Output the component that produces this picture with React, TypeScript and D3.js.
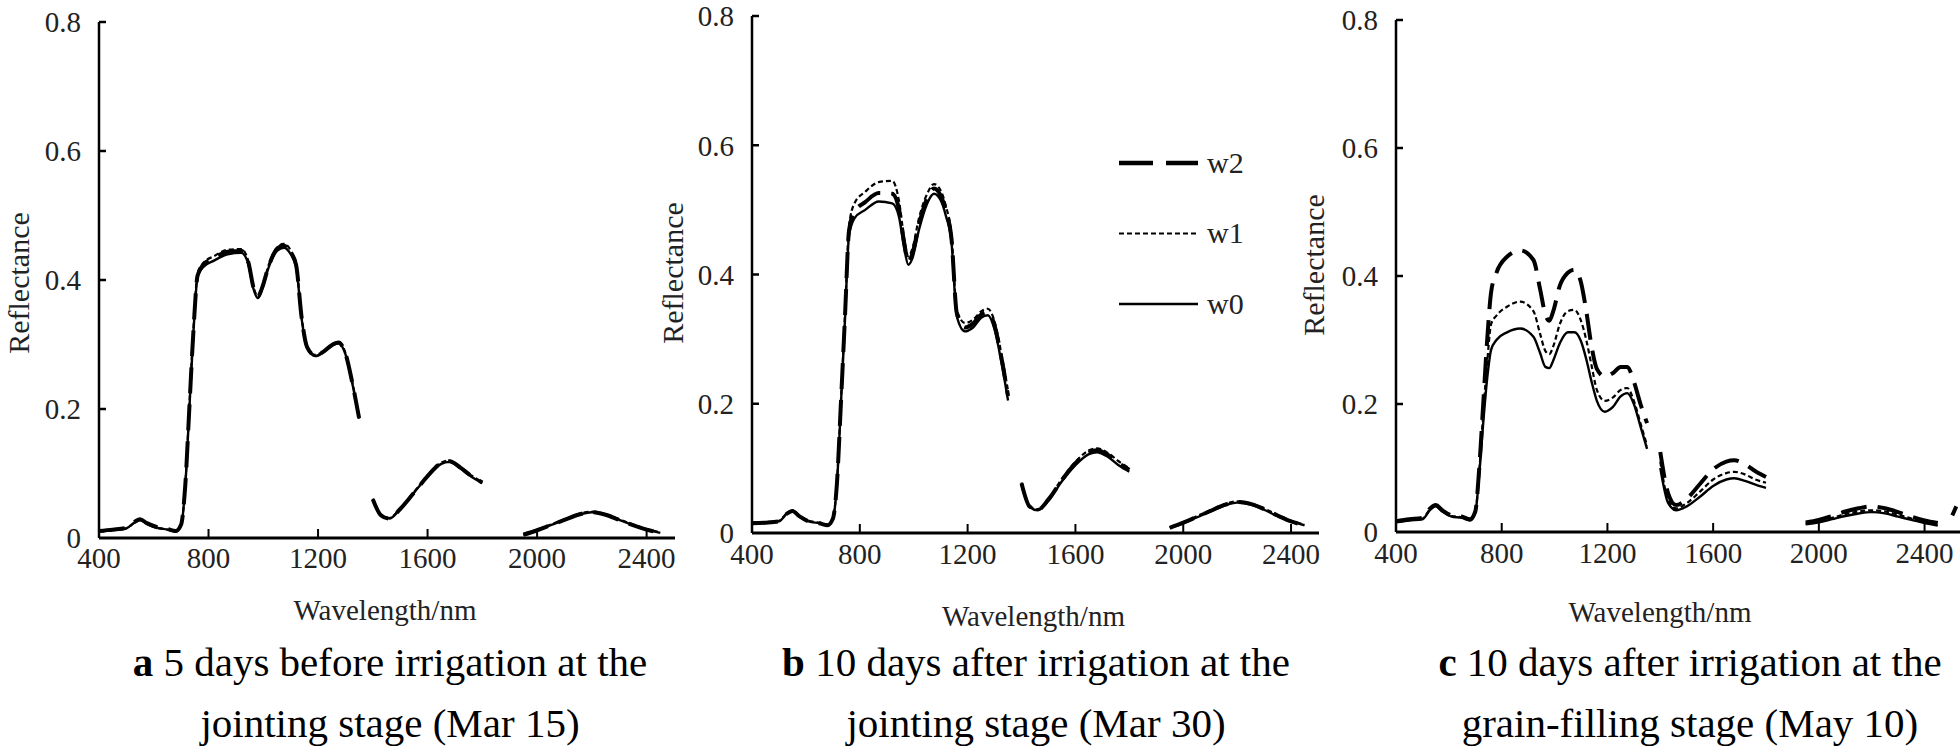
import React from 'react';
import * as d3 from 'd3';

// wavelength grid (nm); 1375, 1875 and 2475 are water-band gaps (null reflectance)
const wavelength = [
  400, 450, 500, 530, 550, 575, 610, 650, 680, 700, 715, 730, 745, 760, 780, 820, 870, 920, 945, 965,
  980, 995, 1020, 1050, 1075, 1100, 1120, 1140, 1160, 1190, 1220, 1250, 1275, 1300, 1325, 1350,
  1375,
  1400, 1430, 1460, 1500, 1550, 1600, 1650, 1680, 1720, 1760, 1800,
  1875,
  1950, 2000, 2050, 2100, 2150, 2200, 2250, 2300, 2350, 2400, 2450,
  2475, 2505, 2520
];

const xTicks = [400, 800, 1200, 1600, 2000, 2400];
const yTicks = [0, 0.2, 0.4, 0.6, 0.8];

// panel a - 5 days before irrigation (jointing)
const aW0 = [
  0.010, 0.012, 0.015, 0.024, 0.028, 0.022, 0.016, 0.013, 0.010, 0.020, 0.080, 0.200, 0.320, 0.405, 0.420, 0.430, 0.440, 0.442, 0.425, 0.385,
  0.372, 0.385, 0.420, 0.445, 0.450, 0.440, 0.420, 0.340, 0.295, 0.282, 0.288, 0.298, 0.302, 0.285, 0.240, 0.185,
  null,
  0.060, 0.035, 0.030, 0.045, 0.070, 0.095, 0.115, 0.118, 0.108, 0.095, 0.085,
  null,
  0.005, 0.012, 0.020, 0.028, 0.036, 0.040, 0.036, 0.028, 0.020, 0.013, 0.008,
  null, null, null
];
const aW1 = [
  0.010, 0.012, 0.015, 0.024, 0.028, 0.022, 0.016, 0.013, 0.010, 0.020, 0.082, 0.205, 0.325, 0.410, 0.426, 0.437, 0.447, 0.448, 0.430, 0.388,
  0.375, 0.388, 0.424, 0.450, 0.456, 0.446, 0.425, 0.343, 0.297, 0.284, 0.290, 0.300, 0.304, 0.287, 0.242, 0.187,
  null,
  0.061, 0.036, 0.031, 0.046, 0.071, 0.097, 0.117, 0.120, 0.110, 0.097, 0.087,
  null,
  0.006, 0.013, 0.021, 0.029, 0.037, 0.041, 0.037, 0.029, 0.021, 0.014, 0.009,
  null, null, null
];
const aW2 = [
  0.011, 0.013, 0.016, 0.025, 0.029, 0.023, 0.017, 0.014, 0.011, 0.021, 0.081, 0.202, 0.322, 0.407, 0.423, 0.434, 0.444, 0.445, 0.428, 0.387,
  0.374, 0.387, 0.422, 0.448, 0.453, 0.443, 0.423, 0.342, 0.296, 0.283, 0.289, 0.299, 0.303, 0.286, 0.241, 0.186,
  null,
  0.060, 0.035, 0.030, 0.045, 0.070, 0.096, 0.116, 0.119, 0.109, 0.096, 0.086,
  null,
  0.005, 0.012, 0.020, 0.028, 0.036, 0.040, 0.036, 0.028, 0.020, 0.013, 0.008,
  null, null, null
];

// panel b - 10 days after irrigation (jointing)
const bW0 = [
  0.015, 0.016, 0.018, 0.030, 0.034, 0.026, 0.018, 0.015, 0.012, 0.022, 0.075, 0.200, 0.330, 0.460, 0.487, 0.500, 0.513, 0.510, 0.490, 0.440,
  0.415, 0.425, 0.470, 0.510, 0.525, 0.515, 0.490, 0.450, 0.335, 0.312, 0.318, 0.333, 0.337, 0.315, 0.265, 0.205,
  null,
  0.075, 0.040, 0.035, 0.050, 0.080, 0.105, 0.122, 0.125, 0.118, 0.105, 0.095,
  null,
  0.008, 0.015, 0.024, 0.033, 0.042, 0.047, 0.044, 0.036, 0.026, 0.018, 0.012,
  null, null, null
];
const bW1 = [
  0.016, 0.017, 0.019, 0.031, 0.035, 0.027, 0.019, 0.016, 0.013, 0.023, 0.078, 0.205, 0.340, 0.475, 0.510, 0.528, 0.543, 0.545, 0.515, 0.455,
  0.428, 0.440, 0.488, 0.525, 0.540, 0.530, 0.505, 0.462, 0.345, 0.325, 0.330, 0.343, 0.347, 0.327, 0.278, 0.220,
  null,
  0.078, 0.042, 0.037, 0.053, 0.084, 0.110, 0.128, 0.131, 0.124, 0.111, 0.100,
  null,
  0.009, 0.016, 0.026, 0.035, 0.044, 0.049, 0.046, 0.038, 0.028, 0.019, 0.013,
  null, null, null
];
const bW2 = [
  0.015, 0.016, 0.018, 0.030, 0.034, 0.026, 0.018, 0.015, 0.012, 0.022, 0.076, 0.202, 0.335, 0.468, 0.497, 0.512, 0.526, 0.525, 0.502, 0.448,
  0.420, 0.432, 0.478, 0.518, 0.533, 0.522, 0.498, 0.456, 0.340, 0.318, 0.324, 0.338, 0.342, 0.321, 0.272, 0.212,
  null,
  0.077, 0.041, 0.036, 0.052, 0.082, 0.108, 0.125, 0.128, 0.121, 0.108, 0.098,
  null,
  0.008, 0.016, 0.025, 0.034, 0.043, 0.048, 0.045, 0.037, 0.027, 0.018, 0.012,
  null, null, null
];

// panel c - 10 days after irrigation (grain-filling)
const cW0 = [
  0.015, 0.018, 0.020, 0.035, 0.040, 0.032, 0.024, 0.022, 0.018, 0.030, 0.090, 0.170, 0.240, 0.285, 0.300, 0.312, 0.318, 0.305, 0.280, 0.258,
  0.256, 0.268, 0.295, 0.312, 0.312, 0.298, 0.270, 0.235, 0.205, 0.188, 0.195, 0.212, 0.217, 0.200, 0.165, 0.130,
  null,
  0.100, 0.045, 0.034, 0.040, 0.055, 0.072, 0.082, 0.084, 0.080, 0.074, 0.069,
  null,
  0.012, 0.015, 0.020, 0.025, 0.029, 0.031, 0.029, 0.024, 0.019, 0.014, 0.010,
  null, null, null
];
const cW1 = [
  0.016, 0.019, 0.021, 0.036, 0.041, 0.033, 0.025, 0.023, 0.019, 0.031, 0.095, 0.185, 0.265, 0.325, 0.338, 0.352, 0.360, 0.345, 0.310, 0.283,
  0.278, 0.290, 0.325, 0.345, 0.347, 0.330, 0.300, 0.260, 0.222, 0.205, 0.210, 0.222, 0.225, 0.205, 0.170, 0.135,
  null,
  0.110, 0.050, 0.037, 0.045, 0.063, 0.082, 0.092, 0.094, 0.090, 0.082, 0.077,
  null,
  0.013, 0.017, 0.022, 0.028, 0.032, 0.034, 0.032, 0.027, 0.021, 0.016, 0.012,
  null, null, null
];
const cW2 = [
  0.017, 0.020, 0.022, 0.037, 0.042, 0.034, 0.026, 0.024, 0.020, 0.032, 0.100, 0.200, 0.300, 0.375, 0.405, 0.430, 0.440, 0.425, 0.380, 0.340,
  0.330, 0.345, 0.385, 0.405, 0.410, 0.390, 0.345, 0.290, 0.255, 0.243, 0.248, 0.258, 0.258, 0.235, 0.200, 0.170,
  null,
  0.125, 0.060, 0.042, 0.052, 0.075, 0.098, 0.110, 0.112, 0.106, 0.095, 0.086,
  null,
  0.015, 0.019, 0.025, 0.032, 0.037, 0.040, 0.037, 0.031, 0.024, 0.018, 0.014,
  null, 0.026, 0.040
];

const seriesNames = ['w2', 'w1', 'w0'];
const captionLetters = ['a', 'b', 'c'];
const captionLine1 = ['5 days before irrigation at the', '10 days after irrigation at the', '10 days after irrigation at the'];
const captionLine2 = ['jointing stage (Mar 15)', 'jointing stage (Mar 30)', 'grain-filling stage (May 10)'];

const FONT = '"Liberation Serif", "Times New Roman", serif';

const styles: Record<string, { width: number; dash?: string }> = {
  w2: { width: 4, dash: '26,11' },
  w1: { width: 2.2, dash: '5,3' },
  w0: { width: 2.4 }
};

const panels = [
  { data: { w0: aW0, w1: aW1, w2: aW2 }, x: [99, 674], y: [538, 22], axisEnd: 675, yTitle: [18, 283], xTitleY: 620, tickY: 568, cap: 390 },
  { data: { w0: bW0, w1: bW1, w2: bW2 }, x: [752, 1318], y: [533, 16], axisEnd: 1319, yTitle: [672, 273], xTitleY: 626, tickY: 564, cap: 1036 },
  { data: { w0: cW0, w1: cW1, w2: cW2 }, x: [1396, 1951], y: [532, 20], axisEnd: 1960, yTitle: [1313, 265], xTitleY: 622, tickY: 563, cap: 1690 }
];

function Panel({ p, i }: { p: any; i: number }) {
  const x = d3.scaleLinear().domain([400, 2500]).range(p.x);
  const y = d3.scaleLinear().domain([0, 0.8]).range(p.y);
  const x0 = x(400);
  const y0 = y(0);
  const line = d3
    .line<number | null>()
    .defined((d) => d != null)
    .x((_, k) => x(wavelength[k]))
    .y((d) => y(d as number))
    .curve(d3.curveMonotoneX);

  return (
    <g>
      {['w0', 'w1', 'w2'].map((s) => (
        <path
          key={s}
          d={line(p.data[s]) || ''}
          fill="none"
          stroke="#000"
          strokeWidth={styles[s].width}
          strokeDasharray={styles[s].dash}
          strokeLinejoin="round"
        />
      ))}
      {/* y axis */}
      <line x1={x0} x2={x0} y1={y(0.8)} y2={y0} stroke="#000" strokeWidth={2.5} />
      {yTicks.map((t) => (
        <g key={t}>
          {t > 0 && <line x1={x0} x2={x0 + 7} y1={y(t)} y2={y(t)} stroke="#000" strokeWidth={2.5} />}
          <text x={x0 - 18} y={y(t)} dy="0.36em" textAnchor="end" fontSize={29} fill="#222">
            {t === 0 ? '0' : t.toFixed(1)}
          </text>
        </g>
      ))}
      {/* x axis */}
      <line x1={x0} x2={p.axisEnd} y1={y0} y2={y0} stroke="#000" strokeWidth={3} />
      {xTicks.map((t) => (
        <g key={t}>
          <line x1={x(t)} x2={x(t)} y1={y0} y2={y0 - 9} stroke="#000" strokeWidth={2} />
          <text x={x(t)} y={p.tickY} textAnchor="middle" fontSize={29} fill="#222">
            {t}
          </text>
        </g>
      ))}
      <text
        transform={`translate(${p.yTitle[0]},${p.yTitle[1]}) rotate(-90)`}
        dy="0.35em"
        textAnchor="middle"
        fontSize={30}
        fill="#222"
      >
        Reflectance
      </text>
      <text x={(x0 + p.axisEnd) / 2 - (i === 2 ? 18 : 2)} y={p.xTitleY} textAnchor="middle" fontSize={29} fill="#222">
        Wavelength/nm
      </text>
      <text x={p.cap} y={676} textAnchor="middle" fontSize={41} fill="#000">
        <tspan fontWeight="bold">{captionLetters[i]}</tspan>
        <tspan> {captionLine1[i]}</tspan>
      </text>
      <text x={p.cap} y={737} textAnchor="middle" fontSize={41} fill="#000">
        {captionLine2[i]}
      </text>
    </g>
  );
}

export default function App(): JSX.Element {
  const legendY = d3.scalePoint().domain(seriesNames).range([163, 304]);
  return (
    <svg
      width={1960}
      height={749}
      style={{ position: 'absolute', left: 0, top: 0, background: '#fff' }}
      fontFamily={FONT}
    >
      <rect width={1960} height={749} fill="#fff" />
      {panels.map((p, i) => (
        <Panel key={i} p={p} i={i} />
      ))}
      {/* legend in panel b */}
      {seriesNames.map((s) => (
        <g key={s}>
          <line
            x1={1119}
            x2={1198}
            y1={legendY(s)}
            y2={legendY(s)}
            stroke="#000"
            strokeWidth={s === 'w2' ? 4.5 : styles[s].width}
            strokeDasharray={s === 'w2' ? '34,13' : styles[s].dash}
          />
          <text x={1207} y={legendY(s)} dy="0.33em" fontSize={30} fill="#222">
            {s}
          </text>
        </g>
      ))}
    </svg>
  );
}
